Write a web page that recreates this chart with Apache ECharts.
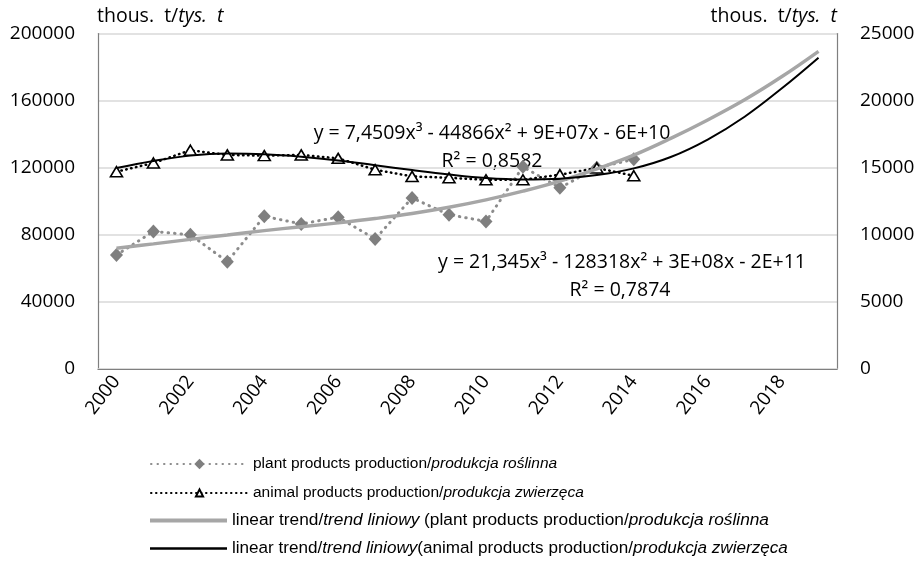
<!DOCTYPE html>
<html>
<head>
<meta charset="utf-8">
<script src="https://cdn.jsdelivr.net/npm/echarts@6/dist/echarts.min.js"></script>
<style>
  html, body { margin: 0; padding: 0; background: #fff; }
  #chart { width: 919px; height: 561px; }
</style>
</head>
<body>
<div id="chart"></div>
<script>
// categories
const years = ['2000', '2001', '2002', '2003', '2004', '2005', '2006', '2007', '2008', '2009',
  '2010', '2011', '2012', '2013', '2014', '2015', '2016', '2017', '2018', '2019'];

// plant products (left axis), animal products (right axis), thous. t
const plantProduction = [68000, 82000, 80000, 64000, 91000, 86500, 90500, 77500, 102000, 92000,
  88000, 120500, 108000, 120000, 125000];
const animalProduction = [14700, 15350, 16300, 15950, 15900, 15950, 15700, 14850, 14350, 14250,
  14100, 14100, 14480, 14980, 14400];

// trend lines (extended to 2019)
const plantTrend = [72000, 74600, 77300, 79900, 82500, 84800, 87100, 89700, 92700, 96400,
  100800, 106000, 112000, 119300, 127500, 137500, 148500, 160500, 174200, 189400];
const animalTrend = [14975, 15500, 15900, 16050, 16000, 15820, 15545, 15180, 14820, 14490,
  14230, 14120, 14180, 14450, 14950, 15800, 17100, 18800, 20900, 23200];

// axis ranges
const leftAxis = { min: 0, max: 200000, interval: 40000 };
const rightAxis = { min: 0, max: 25000, interval: 5000 };

const names = [
  'plant products production/produkcja roślinna',
  'animal products production/produkcja zwierzęca',
  'linear trend/trend liniowy (plant products production/produkcja roślinna',
  'linear trend/trend liniowy(animal products production/produkcja zwierzęca'
];
const legendText = {
  [names[0]]: '{n|plant products production/}{i|produkcja roślinna}',
  [names[1]]: '{n|animal products production/}{i|produkcja zwierzęca}',
  [names[2]]: '{n|linear trend/}{i|trend liniowy}{n| (plant products production/}{i|produkcja roślinna}',
  [names[3]]: '{n|linear trend/}{i|trend liniowy}{n|(animal products production/}{i|produkcja zwierzęca}'
};

const font = '"Open Sans", "Noto Sans", sans-serif';
const legendFont = '"Liberation Sans Narrow", "Liberation Sans", Arial, sans-serif';

const legendRow = function (name, top, width, height, size, icon) {
  return {
    data: [icon ? { name: name, icon: icon } : name],
    orient: 'vertical',
    left: 150,
    top: top,
    padding: 0,
    itemGap: 0,
    itemWidth: width,
    itemHeight: height,
    selectedMode: false,
    formatter: n => legendText[n],
    textStyle: {
      color: '#000',
      rich: {
        n: { fontFamily: legendFont, fontSize: size, color: '#000' },
        i: { fontFamily: legendFont, fontSize: size, color: '#000', fontStyle: 'italic' }
      }
    }
  };
};

const eqStyle = function (text) {
  return { text: text, font: '19.5px ' + font, fill: '#000', align: 'center', verticalAlign: 'middle' };
};
const unitStyle = {
  text: 'thous.  t/{i|tys.  t}', font: '19.5px ' + font, fill: '#000',
  rich: { i: { fontStyle: 'italic', fontSize: 19.5, fontFamily: font } }
};

const chart = echarts.init(document.getElementById('chart'));
chart.setOption({
  backgroundColor: '#fff',
  animation: false,
  grid: { left: 98, right: 82, top: 33.5, bottom: 192, outerBoundsMode: 'none' },
  legend: [
    legendRow(names[0], 456, 97, 13, 15.5),
    legendRow(names[1], 485, 97, 9, 15.5),
    legendRow(names[2], 512, 77, 14, 17.3, 'path://M0,0H60V3.2H0Z'),
    legendRow(names[3], 540, 77, 14, 17.1, 'path://M0,0H60V2H0Z')
  ],
  graphic: [
    { type: 'text', left: 97, top: 6, style: unitStyle },
    { type: 'text', right: 82, top: 6, style: unitStyle },
    { type: 'text', x: 492, y: 133, style: eqStyle('y = 7,4509x³ - 44866x² + 9E+07x - 6E+10') },
    { type: 'text', x: 492, y: 161, style: eqStyle('R² = 0,8582') },
    { type: 'text', x: 622, y: 262, style: eqStyle('y = 21,345x³ - 128318x² + 3E+08x - 2E+11') },
    { type: 'text', x: 620, y: 290, style: eqStyle('R² = 0,7874') }
  ],
  xAxis: [{
    type: 'category',
    data: years,
    boundaryGap: true,
    axisLine: { lineStyle: { color: '#d9d9d9', width: 1.5 } },
    axisTick: { show: false },
    axisLabel: {
      interval: 1,
      rotate: 52,
      margin: 9,
      color: '#000',
      fontSize: 19,
      fontFamily: font
    }
  }, {
    type: 'category',
    data: years,
    position: 'top',
    axisLine: { lineStyle: { color: '#7f7f7f', width: 1.2 } },
    axisTick: { show: false },
    axisLabel: { show: false }
  }],
  yAxis: [{
    type: 'value',
    min: leftAxis.min,
    max: leftAxis.max,
    interval: leftAxis.interval,
    axisLine: { show: true, lineStyle: { color: '#7f7f7f', width: 1.2 } },
    axisTick: { show: false },
    splitLine: { lineStyle: { color: '#d9d9d9', width: 1.5 } },
    axisLabel: { color: '#000', fontSize: 19, fontFamily: font, margin: 23, formatter: v => String(v) }
  }, {
    type: 'value',
    min: rightAxis.min,
    max: rightAxis.max,
    interval: rightAxis.interval,
    position: 'right',
    axisLine: { show: true, lineStyle: { color: '#7f7f7f', width: 1.2 } },
    axisTick: { show: false },
    splitLine: { show: false },
    axisLabel: { color: '#000', fontSize: 19, fontFamily: font, margin: 23, formatter: v => String(v) }
  }],
  series: [{
    name: names[0],
    type: 'line',
    yAxisIndex: 0,
    data: plantProduction,
    symbol: 'diamond',
    symbolSize: [13, 14],
    itemStyle: { color: '#7f7f7f' },
    lineStyle: { color: '#8c8c8c', width: 3, type: [0.5, 6], cap: 'round' },
    z: 3
  }, {
    name: names[1],
    type: 'line',
    yAxisIndex: 1,
    data: animalProduction,
    symbol: 'triangle',
    symbolSize: [12, 10],
    itemStyle: { color: '#fff', borderColor: '#000', borderWidth: 1.6 },
    lineStyle: { color: '#000', width: 2.5, type: [0.5, 4.5], cap: 'round' },
    z: 3
  }, {
    name: names[2],
    type: 'line',
    yAxisIndex: 0,
    data: plantTrend,
    smooth: 0.4,
    symbol: 'none',
    itemStyle: { color: '#a6a6a6' },
    lineStyle: { color: '#a6a6a6', width: 3.4 },
    z: 4
  }, {
    name: names[3],
    type: 'line',
    yAxisIndex: 1,
    data: animalTrend,
    smooth: 0.4,
    symbol: 'none',
    itemStyle: { color: '#000' },
    lineStyle: { color: '#000', width: 2 },
    z: 4
  }]
});
</script>
</body>
</html>
